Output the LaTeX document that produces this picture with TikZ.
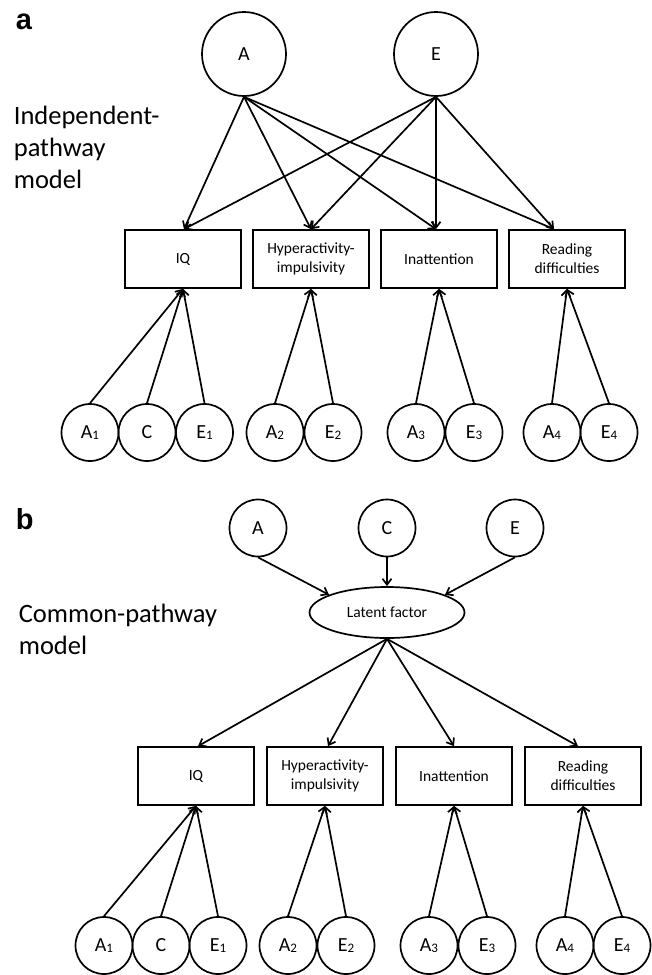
\documentclass[tikz,border=0pt]{standalone}
\usepackage{fontspec}
\setmainfont{Carlito}
\newfontfamily\panelfont{Liberation Sans}
\usetikzlibrary{shapes.geometric,arrows.meta}
\newcommand\idx[1]{\raisebox{-1.5pt}{\fontsize{13}{13}\selectfont #1}}

\begin{document}
\begin{tikzpicture}[x=1pt, y=-1pt, line width=1.7pt,
	facbig/.style={circle, draw, minimum size=84pt, inner sep=0pt, font=\fontsize{20}{20}\selectfont},
	facsmall/.style={circle, draw, minimum size=57pt, inner sep=0pt, font=\fontsize{20}{20}\selectfont},
	trait/.style={rectangle, draw, minimum width=116pt, minimum height=58pt, inner sep=0pt, align=center, font=\fontsize{15.5}{19}\selectfont},
	factor/.style={ellipse, draw, minimum width=155pt, minimum height=51pt, inner sep=0pt, font=\fontsize{15.5}{19}\selectfont},
	arr/.style={-{Straight Barb[length=6pt,width=9pt]}},
	lbl/.style={anchor=north west, inner sep=0pt, align=left, font=\fontsize{26.5}{32}\selectfont},
	panel/.style={anchor=base west, inner sep=0pt, font=\panelfont\bfseries\fontsize{29}{29}\selectfont}]
	\useasboundingbox (0,0) rectangle (651,975);
	% a
	\node [panel] (pa) at (15,29) {a};
	\node [lbl] (ma) at (13,105) {Independent-\\pathway\\model};
	\node [facbig] (aa) at (244,54) {A};
	\node [facbig] (ea) at (436,54) {E};
	\node [trait] (iqa) at (183,259) {IQ};
	\node [trait] (hya) at (311,259) {Hyperactivity-\\impulsivity};
	\node [trait] (ina) at (439,259) {Inattention};
	\node [trait] (rda) at (567,259) {Reading\\difficulties};
	\node [facsmall] (a1a) at (90,432.5) {A\idx{1}};
	\node [facsmall] (ca) at (147,432.5) {C};
	\node [facsmall] (e1a) at (204.5,432.5) {E\idx{1}};
	\node [facsmall] (a2a) at (275,432.5) {A\idx{2}};
	\node [facsmall] (e2a) at (333,432.5) {E\idx{2}};
	\node [facsmall] (a3a) at (416,432.5) {A\idx{3}};
	\node [facsmall] (e3a) at (474,432.5) {E\idx{3}};
	\node [facsmall] (a4a) at (552,432.5) {A\idx{4}};
	\node [facsmall] (e4a) at (609,432.5) {E\idx{4}};
	\draw [arr] (aa.south) -- ([xshift=1pt]iqa.north);
	\draw [arr] (aa.south) -- (hya.north);
	\draw [arr] (aa.south) -- ([xshift=-3pt]ina.north);
	\draw [arr] (aa.south) -- ([xshift=-13pt]rda.north);
	\draw [arr] (ea.south) -- ([xshift=1pt]iqa.north);
	\draw [arr] (ea.south) -- (hya.north);
	\draw [arr] (ea.south) -- ([xshift=-3pt]ina.north);
	\draw [arr] (ea.south) -- ([xshift=-13pt]rda.north);
	\draw [arr] (a1a.north) -- (iqa.south);
	\draw [arr] (ca.north) -- (iqa.south);
	\draw [arr] (e1a.north) -- (iqa.south);
	\draw [arr] (a2a.north) -- (hya.south);
	\draw [arr] (e2a.north) -- (hya.south);
	\draw [arr] (a3a.north) -- (ina.south);
	\draw [arr] (e3a.north) -- (ina.south);
	\draw [arr] (a4a.north) -- (rda.south);
	\draw [arr] (e4a.north) -- (rda.south);
	% b
	\node [panel] (pb) at (15,529) {b};
	\node [lbl] (mb) at (18,603) {Common-pathway\\model};
	\node [facsmall] (ab) at (258,528) {A};
	\node [facsmall] (cb) at (387,528) {C};
	\node [facsmall] (eb) at (515,528) {E};
	\node [factor] (lat) at (387,612.5) {Latent factor};
	\node [trait] (iqb) at (196,776) {IQ};
	\node [trait] (hyb) at (325,776) {Hyperactivity-\\impulsivity};
	\node [trait] (inb) at (454,776) {Inattention};
	\node [trait] (rdb) at (583,776) {Reading\\difficulties};
	\node [facsmall] (a1b) at (104,945.5) {A\idx{1}};
	\node [facsmall] (cb2) at (161,945.5) {C};
	\node [facsmall] (e1b) at (218,945.5) {E\idx{1}};
	\node [facsmall] (a2b) at (288,945.5) {A\idx{2}};
	\node [facsmall] (e2b) at (346,945.5) {E\idx{2}};
	\node [facsmall] (a3b) at (429,945.5) {A\idx{3}};
	\node [facsmall] (e3b) at (487,945.5) {E\idx{3}};
	\node [facsmall] (a4b) at (565,945.5) {A\idx{4}};
	\node [facsmall] (e4b) at (622,945.5) {E\idx{4}};
	\draw [arr] (ab.south) -- (lat.163);
	\draw [arr] (cb.south) -- (lat.north);
	\draw [arr] (eb.south) -- (lat.17);
	\draw [arr] (lat.south) -- ([xshift=2pt]iqb.north);
	\draw [arr] (lat.south) -- ([xshift=3pt]hyb.north);
	\draw [arr] (lat.south) -- (inb.north);
	\draw [arr] (lat.south) -- ([xshift=-5pt]rdb.north);
	\draw [arr] (a1b.north) -- (iqb.south);
	\draw [arr] (cb2.north) -- (iqb.south);
	\draw [arr] (e1b.north) -- (iqb.south);
	\draw [arr] (a2b.north) -- (hyb.south);
	\draw [arr] (e2b.north) -- (hyb.south);
	\draw [arr] (a3b.north) -- (inb.south);
	\draw [arr] (e3b.north) -- (inb.south);
	\draw [arr] (a4b.north) -- (rdb.south);
	\draw [arr] (e4b.north) -- (rdb.south);
\end{tikzpicture}
\end{document}
